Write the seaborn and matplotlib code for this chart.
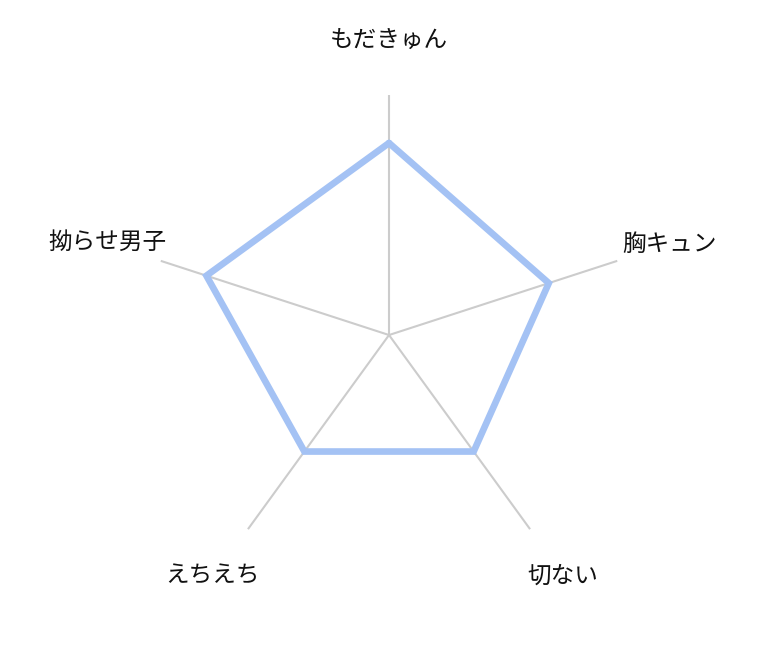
import numpy as np
import matplotlib
matplotlib.use("Agg")
import matplotlib.pyplot as plt
import seaborn as sns

# データ
categories = ["もだきゅん", "胸キュン", "切ない", "えちえち", "拗らせ男子"]
values = [4, 3.5, 3, 3, 4]
max_value = 5

sns.set_style("white")
plt.rcParams["font.family"] = ["Noto Sans CJK JP", "DejaVu Sans"]

fig = plt.figure(figsize=(7.81, 6.72), dpi=100)
ax = fig.add_axes([0.1908, 0.1443, 0.6146, 0.7143], projection="polar")
ax.set_theta_zero_location("N")
ax.set_theta_direction(-1)
ax.set_ylim(0, max_value)

n = len(categories)
angles = np.linspace(0, 2 * np.pi, n, endpoint=False)

# 軸線
for a in angles:
    ax.plot([a, a], [0, max_value], color="#cccccc", lw=1.5, zorder=1)

# 多角形
closed_angles = np.append(angles, 2 * np.pi)
closed_values = values + values[:1]
sns.lineplot(x=closed_angles, y=closed_values, ax=ax, sort=False,
             estimator=None, color="#a4c2f4", lw=4.8, zorder=3)
ax.lines[-1].set_solid_joinstyle("miter")

ax.grid(False)
ax.set_xticks([])
ax.set_yticks([])
ax.spines["polar"].set_visible(False)
ax.set_xlabel("")
ax.set_ylabel("")

# ラベル (ピクセル単位のオフセット)
offsets = [(0, 55, "center"), (5, 16, "left"), (33, -47, "center"),
           (-35, -47, "center"), (6, 18, "right")]
for a, label, (dx, dy, ha) in zip(angles, categories, offsets):
    ax.annotate(label, xy=(a, max_value), xytext=(dx * 0.72, dy * 0.72),
                textcoords="offset points", ha=ha, va="center",
                fontsize=17, color="#111111", annotation_clip=False)

fig.savefig("out.png", dpi=100)
